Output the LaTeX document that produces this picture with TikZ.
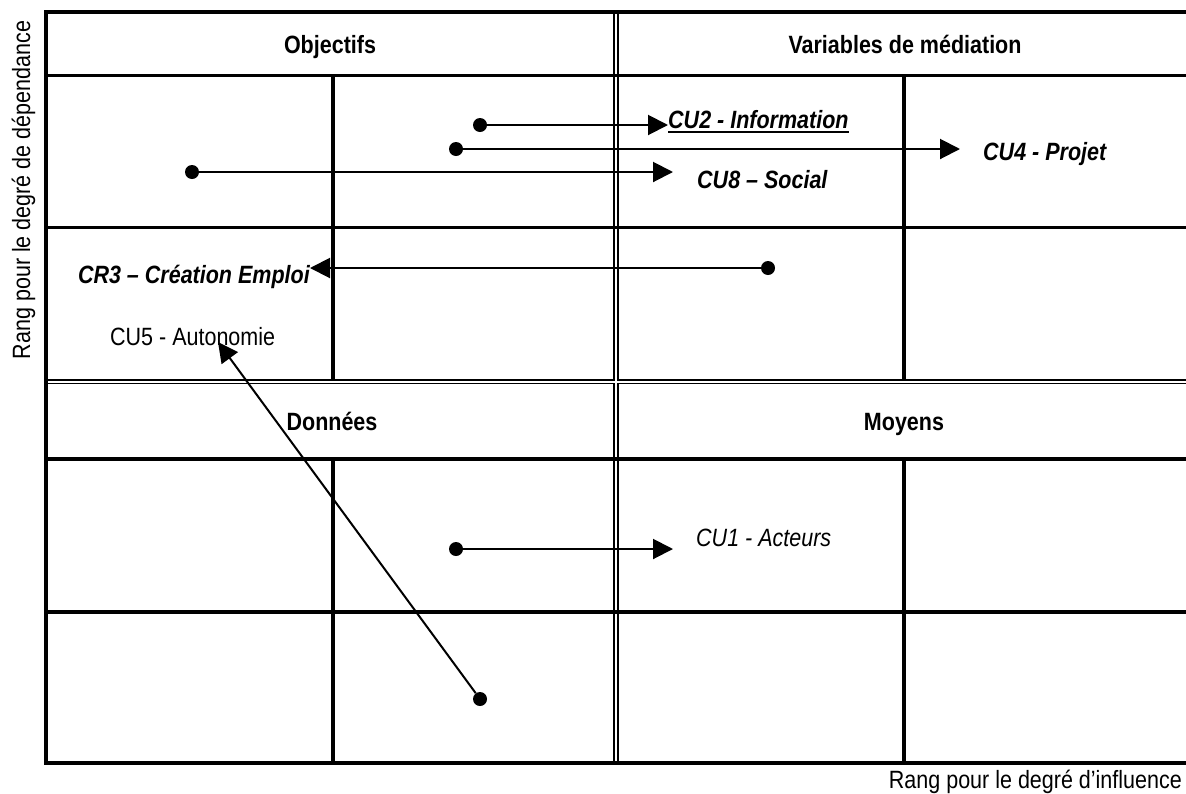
\documentclass[tikz,border=0pt]{standalone}
\usepackage{fontspec}
\setmainfont{Liberation Sans}[FakeStretch=0.86]
\usetikzlibrary{arrows.meta}

\begin{document}
\begin{tikzpicture}[x=1pt,y=-1pt,
  grid/.style={line width=3.3pt},
  twin/.style={double, double distance=2pt, line width=1.8pt},
  link/.style={line width=2pt, -{Triangle[length=20pt,width=20pt]}},
  dot/.style={circle, fill, inner sep=0pt, minimum size=14pt},
  head/.style={font=\fontsize{25}{29}\selectfont\bfseries, inner sep=0pt},
  key/.style={font=\fontsize{25}{29}\selectfont\bfseries\itshape, inner sep=0pt},
  plain/.style={font=\fontsize{25}{29}\selectfont, inner sep=0pt},
  slant/.style={font=\fontsize{25}{29}\selectfont\itshape, inner sep=0pt}]
\useasboundingbox (0,0) rectangle (1186,793);
% quadrant separators
\draw[twin] (616,12) -- (616,763) (46,381.5) -- (1186,381.5);
% frame and rows
\draw[grid] (1186,12) -| (46,763) -- (1186,763);
\draw[grid] (46,75.5) -- (1186,75.5);
\draw[grid] (46,227.5) -- (1186,227.5);
\draw[grid] (46,459) -- (1186,459);
\draw[grid] (46,612) -- (1186,612);
\draw[grid] (333,75.5) -- (333,379.5) (904,75.5) -- (904,379.5);
\draw[grid] (333,459) -- (333,763) (904,459) -- (904,763);
% quadrant titles
\node[head, anchor=base] (objectifs) at (330,53) {Objectifs};
\node[head, anchor=base] (mediation) at (905,53) {Variables de médiation};
\node[head, anchor=base] (donnees) at (332,430) {Données};
\node[head, anchor=base] (moyens) at (904,430) {Moyens};
% axes
\node[plain, anchor=base east] (xaxis) at (1182,788) {Rang pour le degré d’influence};
\node[plain, rotate=90, anchor=base] (yaxis) at (30,190) {Rang pour le degré de dépendance};
% variables
\node[key, anchor=base west] (cu2) at (668,128) {CU2 - Information};
\draw[line width=2pt] ([yshift=-4pt]cu2.base west) -- ([yshift=-4pt]cu2.base east);
\node[key, anchor=base west] (cu4) at (983,160) {CU4 - Projet};
\node[key, anchor=base west] (cu8) at (697,188) {CU8 – Social};
\node[key, anchor=base east] (cr3) at (310,283) {CR3 – Création Emploi};
\node[plain, anchor=base west] (cu5) at (110,345) {CU5 - Autonomie};
\node[slant, anchor=base west] (cu1) at (696,546) {CU1 - Acteurs};
% starting points
\node[dot] (d2) at (480,125) {};
\node[dot] (d4) at (456,149) {};
\node[dot] (d8) at (192,172) {};
\node[dot] (d3) at (768,268) {};
\node[dot] (d1) at (456,549) {};
\node[dot] (d5) at (480,699) {};
\coordinate (t5) at (218,342);
% moves
\draw[link] (d2) -- (d2 -| cu2.west);
\draw[link, shorten >=23pt] (d4) -- (d4 -| cu4.west);
\draw[link, shorten >=24pt] (d8) -- (d8 -| cu8.west);
\draw[link] (d3) -- (d3 -| cr3.east);
\draw[link, shorten >=23pt] (d1) -- (d1 -| cu1.west);
\draw[link] (d5) -- (t5);
\end{tikzpicture}
\end{document}
